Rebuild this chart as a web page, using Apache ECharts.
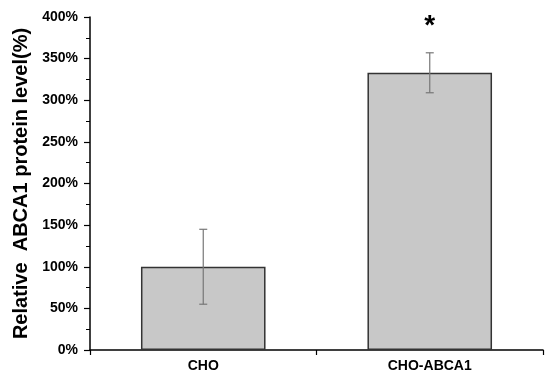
<!DOCTYPE html>
<html><head><meta charset="utf-8">
<script src="https://cdn.jsdelivr.net/npm/echarts@6/dist/echarts.min.js"></script>
<style>html,body{margin:0;padding:0;background:#fff}#c{width:550px;height:374px}</style>
</head><body><div id="c"></div>
<script>
const categories = ['CHO', 'CHO-ABCA1'];
const values = [100, 333];
const errors = [45, 24];
const significance = ['', '*'];
const sigLevel = [null, 396];
const yTicks = [0, 50, 100, 150, 200, 250, 300, 350, 400];

const chart = echarts.init(document.getElementById('c'));
const FONT = '"Liberation Sans", Arial, sans-serif';
chart.setOption({
  animation: false,
  grid: {left: 90, right: 7, top: 17, bottom: 24},
  xAxis: {
    type: 'category', data: categories,
    axisLine: {lineStyle: {color: '#000', width: 1.5}},
    axisTick: {show: true, length: 5, lineStyle: {color: '#000', width: 1.2}},
    axisLabel: {color: '#000', fontFamily: FONT, fontWeight: 'bold', fontSize: 14, margin: 9}
  },
  yAxis: {
    type: 'value', min: yTicks[0], max: yTicks[yTicks.length - 1], interval: 50,
    axisLine: {show: true, lineStyle: {color: '#000', width: 1.5}},
    axisTick: {show: true, length: 6, lineStyle: {color: '#000', width: 1.2}},
    minorTick: {show: true, splitNumber: 2, length: 4, lineStyle: {color: '#000', width: 1}},
    splitLine: {show: false},
    axisLabel: {color: '#000', fontFamily: FONT, fontWeight: 'bold', fontSize: 14, margin: 12, formatter: '{value}%'},
    name: 'Relative  ABCA1 protein level(%)', nameLocation: 'middle', nameGap: 51,
    nameTextStyle: {color: '#000', fontFamily: FONT, fontWeight: 'bold', fontSize: 20}
  },
  series: [
    {
      type: 'bar', data: values, barWidth: '55%',
      itemStyle: {color: '#c8c8c8', borderColor: '#333', borderWidth: 1.5}
    },
    {
      type: 'custom',
      data: categories.map((c, i) => [i, values[i] - errors[i], values[i] + errors[i], sigLevel[i]]),
      renderItem: function (params, api) {
        const x = api.value(0);
        const lo = api.coord([x, api.value(1)]);
        const hi = api.coord([x, api.value(2)]);
        const cap = 4;
        const style = {stroke: '#777', lineWidth: 1.2};
        const children = [
          {type: 'line', shape: {x1: lo[0], y1: lo[1], x2: hi[0], y2: hi[1]}, style: style},
          {type: 'line', shape: {x1: lo[0] - cap, y1: lo[1], x2: lo[0] + cap, y2: lo[1]}, style: style},
          {type: 'line', shape: {x1: hi[0] - cap, y1: hi[1], x2: hi[0] + cap, y2: hi[1]}, style: style}
        ];
        const s = significance[params.dataIndex];
        if (s) {
          const p = api.coord([x, api.value(3)]);
          children.push({type: 'text', x: p[0], y: p[1] + 6, style: {text: s, fill: '#000', font: 'bold 28px ' + FONT, align: 'center', verticalAlign: 'middle'}});
        }
        return {type: 'group', children: children};
      },
      z: 5
    }
  ]
});
</script></body></html>
